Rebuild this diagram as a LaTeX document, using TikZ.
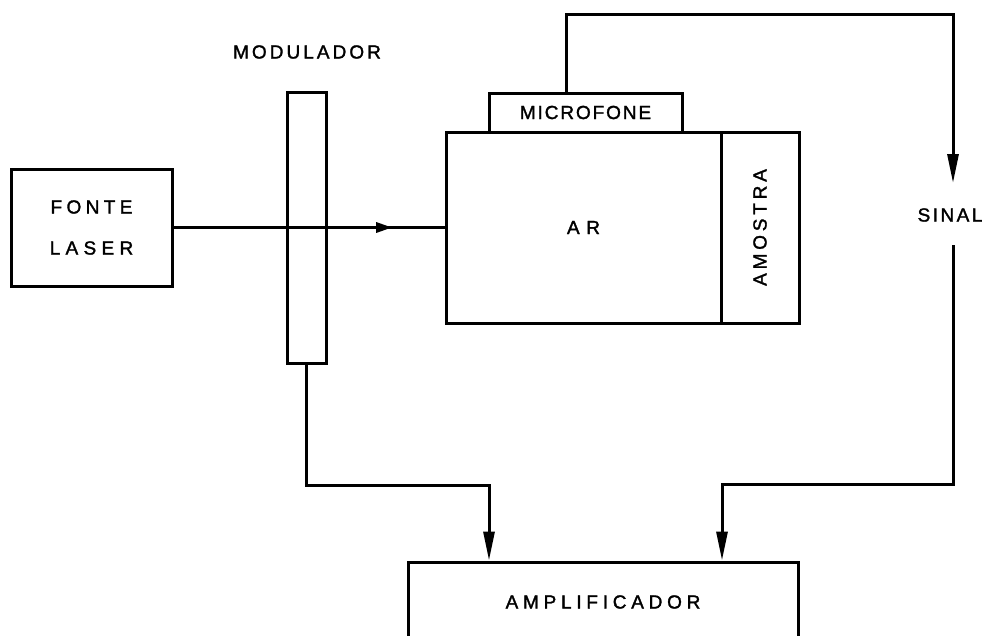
\documentclass[tikz,border=0pt]{standalone}
\usepackage{fontspec}
\setmainfont[FakeBold=1.6]{Liberation Sans}
\usetikzlibrary{arrows.meta,decorations.markings}
\newcommand{\lsp}[2]{{\addfontfeature{LetterSpace=#1}#2}}
\begin{document}
\begin{tikzpicture}[x=1pt,y=-1pt,
  box/.style={draw, line width=3pt, rectangle, inner sep=0pt, font=\fontsize{19}{23}\selectfont},
  lbl/.style={inner sep=0pt, font=\fontsize{19}{23}\selectfont},
  conn/.style={draw, line width=3pt},
  tip/.style={-{Triangle[length=29pt,width=11pt]}}]
\clip (0,0) rectangle (987,635);
\fill[white] (0,0) rectangle (987,635);

\node[box, minimum width=161pt, minimum height=117pt, align=center] (fonte) at (91.5,227.5) {\lsp{23}{FONTE}\\[18pt]\lsp{28}{LASER}};
\node[box, minimum width=39pt, minimum height=271pt] (mod) at (306.5,227.5) {};
\node[lbl] (modlbl) at (307,52) {\lsp{16}{MODULADOR}};
\node[box, minimum width=275pt, minimum height=191pt] (ar) at (583.5,227.5) {\lsp{35}{AR}};
\node[box, minimum width=78pt, minimum height=191pt] (amostra) at (760,227.5) {\rotatebox{90}{\lsp{20}{AMOSTRA}}};
\node[box, minimum width=193pt, minimum height=39pt] (mic) at (585.5,112.5) {\lsp{10}{MICROFONE}};
\node[box, minimum width=390pt, minimum height=80pt] (amp) at (603,602) {\lsp{25}{AMPLIFICADOR}};
\node[lbl] (sinal) at (950,215) {\lsp{13}{SINAL}};
\coordinate (sigA) at (953,183);
\coordinate (sigB) at (953,245);

\draw[conn, postaction={decorate}, decoration={markings, mark=at position 0.807 with {\arrow{Triangle[length=16pt,width=10pt]}}}] (fonte.east) -- (fonte.east -| ar.west);
\draw[conn, tip] ([xshift=-19.5pt]mic.north) -- ++(0,-77) -| (sigA);
\draw[conn, tip] (sigB) -- ++(0,239) -| ([xshift=119pt]amp.north);
\draw[conn, tip] (mod.south) -- ++(0,121) -| ([xshift=-114pt]amp.north);
\end{tikzpicture}
\end{document}
